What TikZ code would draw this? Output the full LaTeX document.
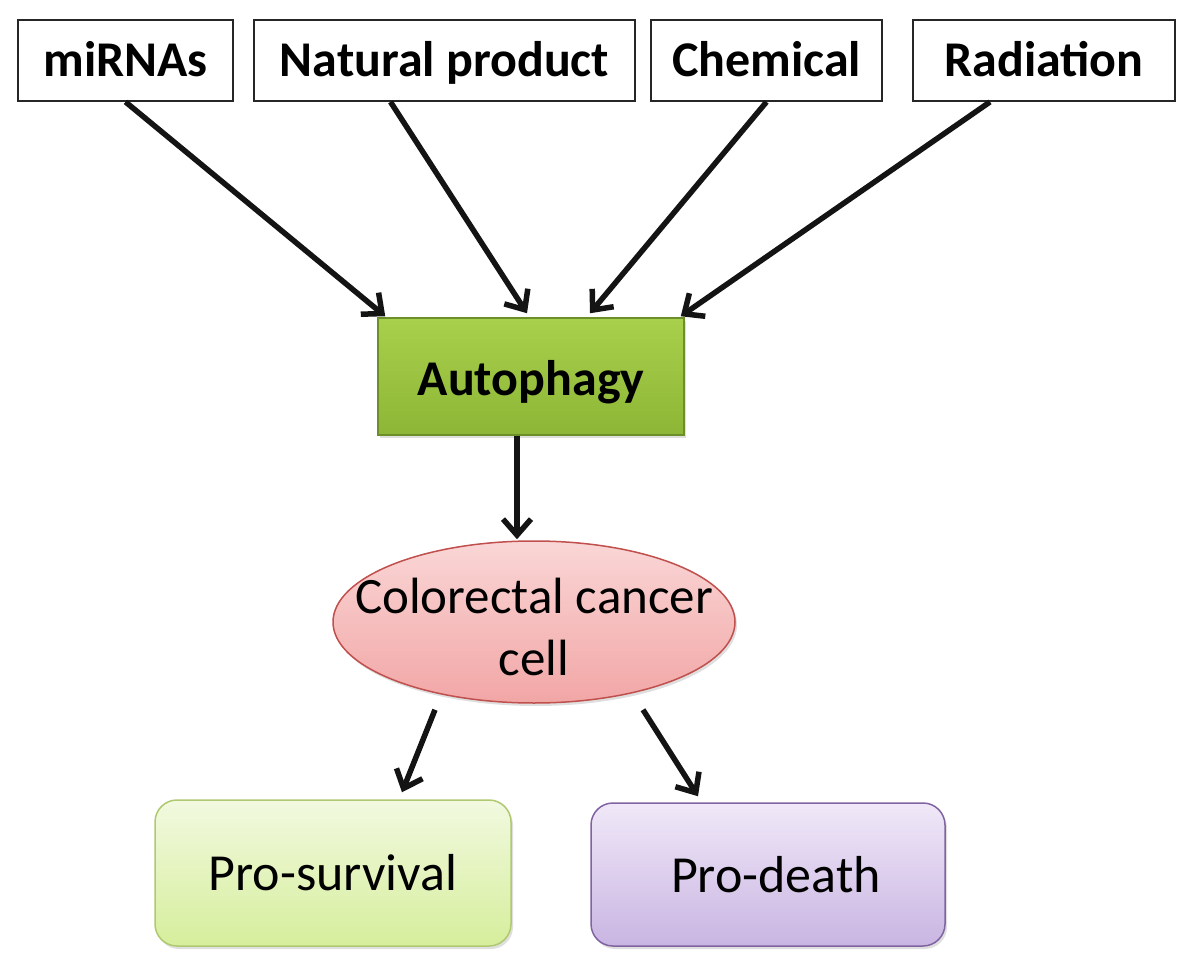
\documentclass[tikz,border=0pt]{standalone}
\usepackage{fontspec}
\setmainfont{Carlito}
\usetikzlibrary{arrows.meta,shapes.geometric,shadows}
\definecolor{augreentop}{HTML}{A9D04C}
\definecolor{augreenbot}{HTML}{8DB636}
\definecolor{audraw}{HTML}{6D8F2A}
\definecolor{pinktop}{HTML}{FAD6D6}
\definecolor{pinkbot}{HTML}{F2A6A6}
\definecolor{pinkdraw}{HTML}{C0504D}
\definecolor{survtop}{HTML}{F2F9E0}
\definecolor{survbot}{HTML}{D6EE9C}
\definecolor{survdraw}{HTML}{AFC970}
\definecolor{deathtop}{HTML}{F0E8F8}
\definecolor{deathbot}{HTML}{C9B5E2}
\definecolor{deathdraw}{HTML}{8064A2}
\tikzset{
  topbox/.style={draw=black!85, line width=1.8pt, fill=white, inner sep=0pt,
    minimum height=81pt, text height=38pt, text depth=5pt,
    font=\fontsize{50}{60}\selectfont\bfseries},
  csh/.style={drop shadow={opacity=0.25, shadow xshift=2pt, shadow yshift=-3pt}},
  arr/.style={draw=black!92, line width=5.5pt,
    -{Straight Barb[length=16pt,width=28pt,line width=5.5pt]}},
}
\begin{document}
\begin{tikzpicture}[x=1pt,y=-1pt]
\useasboundingbox (0,0) rectangle (1181,955);
% top boxes
\node[topbox, minimum width=215pt] (mi) at (125.5,60.5) {miRNAs};
\node[topbox, minimum width=381pt] (np) at (444.5,60.5) {Natural product};
\node[topbox, minimum width=231pt] (ch) at (766.5,60.5) {Chemical};
\node[topbox, minimum width=262pt] (ra) at (1044,60.5) {Radiation};
% autophagy
\node[csh, draw=audraw, line width=1.5pt, top color=augreentop, bottom color=augreenbot,
  minimum width=306pt, minimum height=117pt, inner sep=0pt, text height=41pt, text depth=4pt,
  font=\fontsize{50}{60}\selectfont\bfseries] (au) at (531,376.5) {Autophagy};
% ellipse
\node[csh, ellipse, draw=pinkdraw, line width=1.5pt, top color=pinktop, bottom color=pinkbot,
  minimum width=402pt, minimum height=162pt, inner sep=0pt] (cc) at (534,622) {};
\node[align=center, inner sep=0pt, font=\fontsize{51}{62}\selectfont] (cctext)
  at ([yshift=-5pt]cc.center) {Colorectal cancer\\cell};
% bottom boxes
\node[csh, rounded corners=22pt, draw=survdraw, line width=1.5pt, top color=survtop, bottom color=survbot,
  minimum width=356pt, minimum height=146pt, inner sep=0pt,
  font=\fontsize{52}{60}\selectfont] (ps) at (333,873) {Pro-survival};
\node[csh, rounded corners=22pt, draw=deathdraw, line width=1.5pt, top color=deathtop, bottom color=deathbot,
  minimum width=354pt, minimum height=143pt, inner sep=0pt,
  font=\fontsize{52}{60}\selectfont] (pd) at (768,874.5) {\hspace*{16pt}Pro-death};
% arrows
\draw[arr] (mi.south) -- ([xshift=8pt,yshift=1pt]au.north west);
\draw[arr] ([xshift=-54pt]np.south) -- ([xshift=-4pt,yshift=4pt]au.north);
\draw[arr] (ch.south) -- ([xshift=59pt,yshift=4pt]au.north);
\draw[arr] ([xshift=-54pt]ra.south) -- ([xshift=-4pt,yshift=1pt]au.north east);
\draw[arr] ([xshift=-14pt]au.south) -- ([xshift=-17pt,yshift=1pt]cc.north);
\draw[arr] ([xshift=-99pt,yshift=-6pt]cc.south) -- ([xshift=69pt,yshift=7pt]ps.north);
\draw[arr] ([xshift=109pt,yshift=-6pt]cc.south) -- ([xshift=-70pt,yshift=6pt]pd.north);
\end{tikzpicture}
\end{document}
